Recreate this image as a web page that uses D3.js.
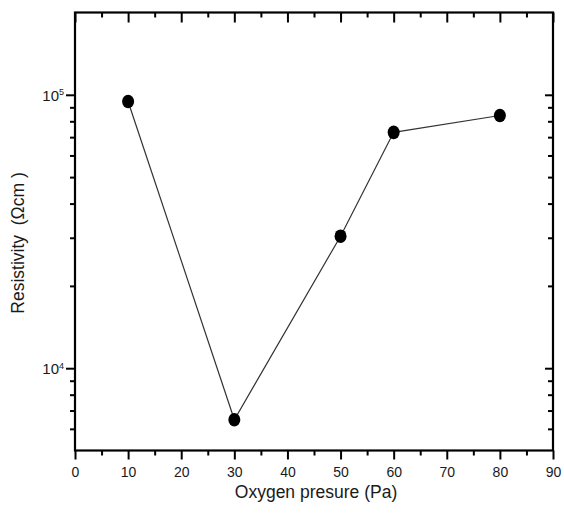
<!DOCTYPE html>
<html>
<head>
<meta charset="utf-8">
<script src="https://cdn.jsdelivr.net/npm/d3@7"></script>
<style>
  body { margin: 0; background: #fff; }
  text { font-family: "Liberation Sans", Arial, sans-serif; fill: #1a1a1a; }
</style>
</head>
<body>
<svg></svg>
<script>
// data
var pressure = [10, 30, 50, 60, 80];
var resistivity = [94500, 6480, 30400, 72900, 84000];
var xTicks = [0, 10, 20, 30, 40, 50, 60, 70, 80, 90];
var xMinor = [5, 15, 25, 35, 45, 55, 65, 75, 85];
var yMajor = [1e4, 1e5];
var yMinor = [6000, 7000, 8000, 9000, 20000, 30000, 40000, 50000, 60000, 70000, 80000, 90000];

var screen = { width: 564, height: 517 };
var margins = { top: 12.5, bottom: 66.5, left: 75, right: 11 };
var width = screen.width - margins.left - margins.right;
var height = screen.height - margins.top - margins.bottom;

var svg = d3.select("svg")
  .attr("width", screen.width)
  .attr("height", screen.height);

var xScale = d3.scaleLinear().domain([0, 90]).range([0, width]);
var yScale = d3.scaleLog().domain([5000, 200000]).range([height, 0]);

var plot = svg.append("g")
  .attr("transform", "translate(" + margins.left + "," + margins.top + ")");

// bottom axis, ticks out
var xAxis = d3.axisBottom(xScale).tickValues(xTicks).tickSize(9).tickPadding(8)
  .tickFormat(d3.format("d"));
var gx = plot.append("g").attr("transform", "translate(0," + height + ")").call(xAxis);
gx.attr("font-size", 14);
plot.append("g").attr("transform", "translate(0," + height + ")")
  .call(d3.axisBottom(xScale).tickValues(xMinor).tickSize(5).tickFormat(""));

// top axis, ticks in
plot.append("g").call(d3.axisBottom(xScale).tickValues(xTicks).tickSize(10).tickFormat(""));
plot.append("g").call(d3.axisBottom(xScale).tickValues(xMinor).tickSize(5).tickFormat(""));

// left axis, ticks out, labels as 10^n
var gy = plot.append("g")
  .call(d3.axisLeft(yScale).tickValues(yMajor).tickSize(9).tickFormat(""));
gy.attr("font-size", 15);
plot.append("g").call(d3.axisLeft(yScale).tickValues(yMinor).tickSize(5).tickFormat(""));
gy.selectAll(".tick").each(function(d) {
  var t = d3.select(this).append("text")
    .attr("dy", "0.35em")
    .attr("text-anchor", "start");
  t.append("tspan").text("10");
  t.append("tspan").attr("dy", "-0.6em").attr("font-size", 9)
    .text(Math.round(Math.log10(d)));
  var bb = t.node().getBBox();
  t.attr("x", -11 - bb.width);
});

// right axis, ticks in
plot.append("g").attr("transform", "translate(" + width + ",0)")
  .call(d3.axisLeft(yScale).tickValues(yMajor).tickSize(8).tickFormat(""));
plot.append("g").attr("transform", "translate(" + width + ",0)")
  .call(d3.axisLeft(yScale).tickValues(yMinor).tickSize(5).tickFormat(""));

plot.selectAll(".domain").remove();
plot.selectAll(".tick line").attr("stroke", "#000").attr("stroke-width", 2);

// frame
plot.append("rect")
  .attr("width", width).attr("height", height)
  .attr("fill", "none").attr("stroke", "#000").attr("stroke-width", 2.2);

var points = pressure.map(function(p, i) { return { x: p, y: resistivity[i] }; });

var line = d3.line()
  .x(function(d) { return xScale(d.x); })
  .y(function(d) { return yScale(d.y); });

plot.append("path")
  .datum(points)
  .attr("d", line)
  .attr("fill", "none")
  .attr("stroke", "#333")
  .attr("stroke-width", 1.2);

plot.selectAll("ellipse")
  .data(points)
  .enter()
  .append("ellipse")
  .attr("cx", function(d) { return xScale(d.x); })
  .attr("cy", function(d) { return yScale(d.y); })
  .attr("rx", 6)
  .attr("ry", 6.8)
  .attr("fill", "#000");

// titles
svg.append("text")
  .attr("x", margins.left + width / 2 + 2)
  .attr("y", 498)
  .attr("text-anchor", "middle")
  .style("font-size", "17.5px")
  .text("Oxygen presure (Pa)");

svg.append("text")
  .attr("transform", "translate(24,243) rotate(-90)")
  .attr("text-anchor", "middle")
  .style("font-size", "17.5px")
  .style("white-space", "pre")
  .text("Resistivity  (\u03A9cm )");
</script>
</body>
</html>
